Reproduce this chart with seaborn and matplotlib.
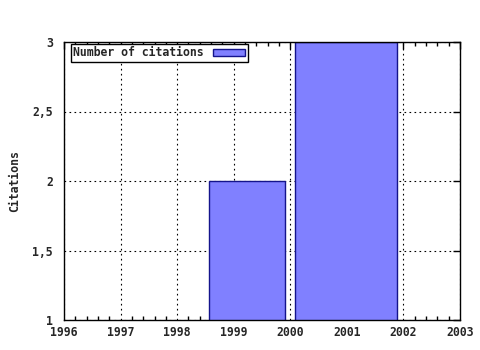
import matplotlib
matplotlib.use("Agg")
import matplotlib.pyplot as plt
import seaborn as sns
import numpy as np
from matplotlib.ticker import MultipleLocator, FixedLocator

# data
bar_left = [1998.56, 2000.08]
bar_right = [1999.906, 2001.88]
citations = [2, 3]
x_ticks = [1996, 1997, 1998, 1999, 2000, 2001, 2002, 2003]
y_ticks = [1, 1.5, 2, 2.5, 3]
y_tick_labels = ["1", "1,5", "2", "2,5", "3"]
series_label = "Number of citations"
y_label = "Citations"

sns.set_theme(style="white")
plt.rcParams['font.family'] = ['DejaVu Sans Mono']
plt.rcParams['font.weight'] = 'bold'
plt.rcParams['font.size'] = 8.3

fig = plt.figure(figsize=(4.8, 3.5), dpi=100)
ax = fig.add_axes([64/480, 30/350, 396/480, 278/350])

edges = [bar_left[0], bar_right[0], bar_left[1], bar_right[1]]
centers = [(l + r) / 2 for l, r in zip(bar_left, bar_right)]
sns.histplot(x=centers, weights=citations, bins=edges, ax=ax,
             color="#8080ff", edgecolor="#14148c", linewidth=1.0,
             alpha=1, label=series_label, zorder=2)
# remove zero-height gap bar(s)
for p in list(ax.patches):
    if p.get_height() == 0:
        p.remove()

ax.set_xlim(1996, 2003)
ax.set_ylim(1, 3)
ax.xaxis.set_major_locator(FixedLocator(x_ticks))
ax.xaxis.set_minor_locator(MultipleLocator(0.2))
ax.yaxis.set_major_locator(FixedLocator(y_ticks))
ax.set_yticklabels(y_tick_labels)
ax.set_xticklabels([str(t) for t in x_ticks])

ax.tick_params(axis='both', which='major', direction='in', length=5, width=1,
               top=True, right=True, labelsize=8.3, color='black')
ax.tick_params(axis='x', which='major', pad=4)
ax.tick_params(axis='y', which='major', pad=8)
ax.tick_params(axis='x', which='minor', direction='in', length=3, width=1,
               top=True, bottom=True, color='black')
ax.tick_params(axis='y', which='minor', left=False, right=False)
for lab in ax.get_xticklabels() + ax.get_yticklabels():
    lab.set_fontweight('bold')

ax.grid(True, which='major', color='black', linestyle=(0, (1.5, 3)), linewidth=0.8, zorder=0)
ax.set_axisbelow(True)
for s in ax.spines.values():
    s.set_color('black')
    s.set_linewidth(1)

ax.set_xlabel("")
ax.set_ylabel(y_label, fontweight='bold', fontsize=8.3, labelpad=8)

leg = ax.legend(loc='upper left', bbox_to_anchor=(7/396, 1 - 2/278),
                markerfirst=False, frameon=True, fancybox=False,
                borderpad=0.2, handlelength=2.8, handleheight=0.6, handletextpad=0.8,
                borderaxespad=0, prop={'weight': 'bold', 'size': 8.3})
leg.get_frame().set_edgecolor('black')
leg.get_frame().set_linewidth(1)
leg.get_frame().set_facecolor('white')
leg.get_frame().set_alpha(1)

fig.savefig("out.png", dpi=100)
